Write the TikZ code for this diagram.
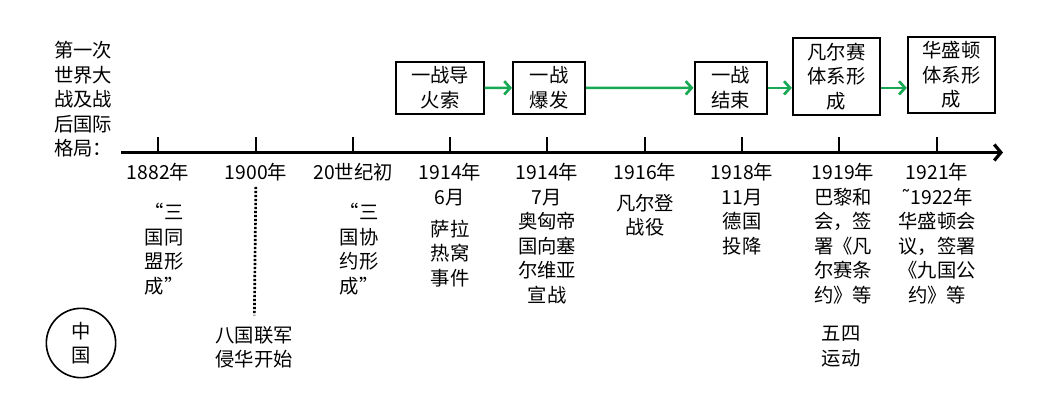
\documentclass[tikz,border=0pt]{standalone}
\usepackage{fontspec}
\setmainfont{Noto Sans CJK SC}
\newfontfamily\tildefont{DejaVu Sans}
\usepackage{xcolor}
\usetikzlibrary{arrows.meta, positioning}
\definecolor{flowgreen}{RGB}{22,168,82}

\begin{document}
\begin{tikzpicture}[x=0.75pt, y=-0.75pt, node distance=8pt,
    every node/.style={font=\fontsize{14.5}{18.4}\selectfont, inner sep=0pt},
    evbox/.style={draw, line width=1.5pt, align=center, inner xsep=11pt, inner ysep=3.4pt, minimum width=54pt, anchor=south},
    datelbl/.style={align=center},
    quotelbl/.style={align=left, text width=2em},
    flow/.style={-{Straight Barb[length=4.5pt, width=10pt]}, line width=2pt, flowgreen}]
    \useasboundingbox (0,0) rectangle (1059,412);

    \node (title) [align=left, anchor=north west] at (54,41) {第一次\\世界大\\战及战\\后国际\\格局：};

    % time axis
    \draw [line width=2.4pt, -{Straight Barb[length=5pt, width=12pt]}] (121,152.5) -- (1003,152.5);
    \foreach \x [count=\i] in {158,256,353,450,547,645,742,839,937} {
        \coordinate (t\i) at (\x,152.5);
        \draw [line width=2.2pt] (t\i) -- ++(0,-16);
    }

    \node (d1) [datelbl, below=of t1] {1882年};
    \node (q1) [quotelbl, below=10pt of d1] {\hfill“三\vphantom{国}\\国同\\盟形\\成”};
    \node (d2) [datelbl, below=of t2] {1900年};
    \node (d3) [datelbl, below=of t3] {20世纪初};
    \node (q3) [quotelbl, below=10pt of d3] {\hfill“三\vphantom{国}\\国协\\约形\\成”};
    \node (d4) [datelbl, below=of t4] {1914年\\6月};
    \node (e4) [datelbl, below=10pt of d4] {萨拉\\热窝\\事件};
    \node (d5) [datelbl, below=of t5] {1914年\\7月\\奥匈帝\\国向塞\\尔维亚\\宣战};
    \node (d6) [datelbl, below=of t6] {1916年};
    \node (e6) [datelbl, below=9pt of d6] {凡尔登\\战役};
    \node (d7) [datelbl, below=of t7] {1918年\\11月\\德国\\投降};
    \node (d8) [datelbl, below=of t8, xshift=3pt] {1919年\\巴黎和\\会，签\\署《凡\\尔赛条\\约》等};
    \node (d9) [datelbl, below=of t9] {1921年\\{\tildefont ˜}1922年\\华盛顿会\\议，签署\\《九国公\\约》等};

    % China row
    \node (china) [draw, circle, line width=1.2pt, minimum size=52pt, align=center] at (81,343) {中\\国};
    \node (invade) [datelbl, anchor=north] at (254,326) {八国联军\\侵华开始};
    \node (wusi) [datelbl, anchor=north] at (841,326) {五四\\运动};
    \draw [line width=2pt, dash pattern=on 1.6pt off 1.4pt, shorten <=4pt, shorten >=8pt] (d2) -- (invade);

    % events above the axis
    \node (fuse) [evbox] at (440,114.5) {一战导\\火索};
    \node (outbreak) [evbox] at (549,114.5) {一战\\爆发};
    \node (warend) [evbox] at (730.5,114.5) {一战\\结束};
    \node (versailles) [evbox] at (836.5,115.5) {凡尔赛\\体系形\\成};
    \node (washington) [evbox] at (951.5,114) {华盛顿\\体系形\\成};

    \draw [flow] (fuse) -- (outbreak);
    \draw [flow] (outbreak) -- (warend);
    \draw [flow] (warend) -- (warend -| versailles.west);
    \draw [flow] (versailles.east |- warend) -- (washington.west |- warend);
\end{tikzpicture}
\end{document}
